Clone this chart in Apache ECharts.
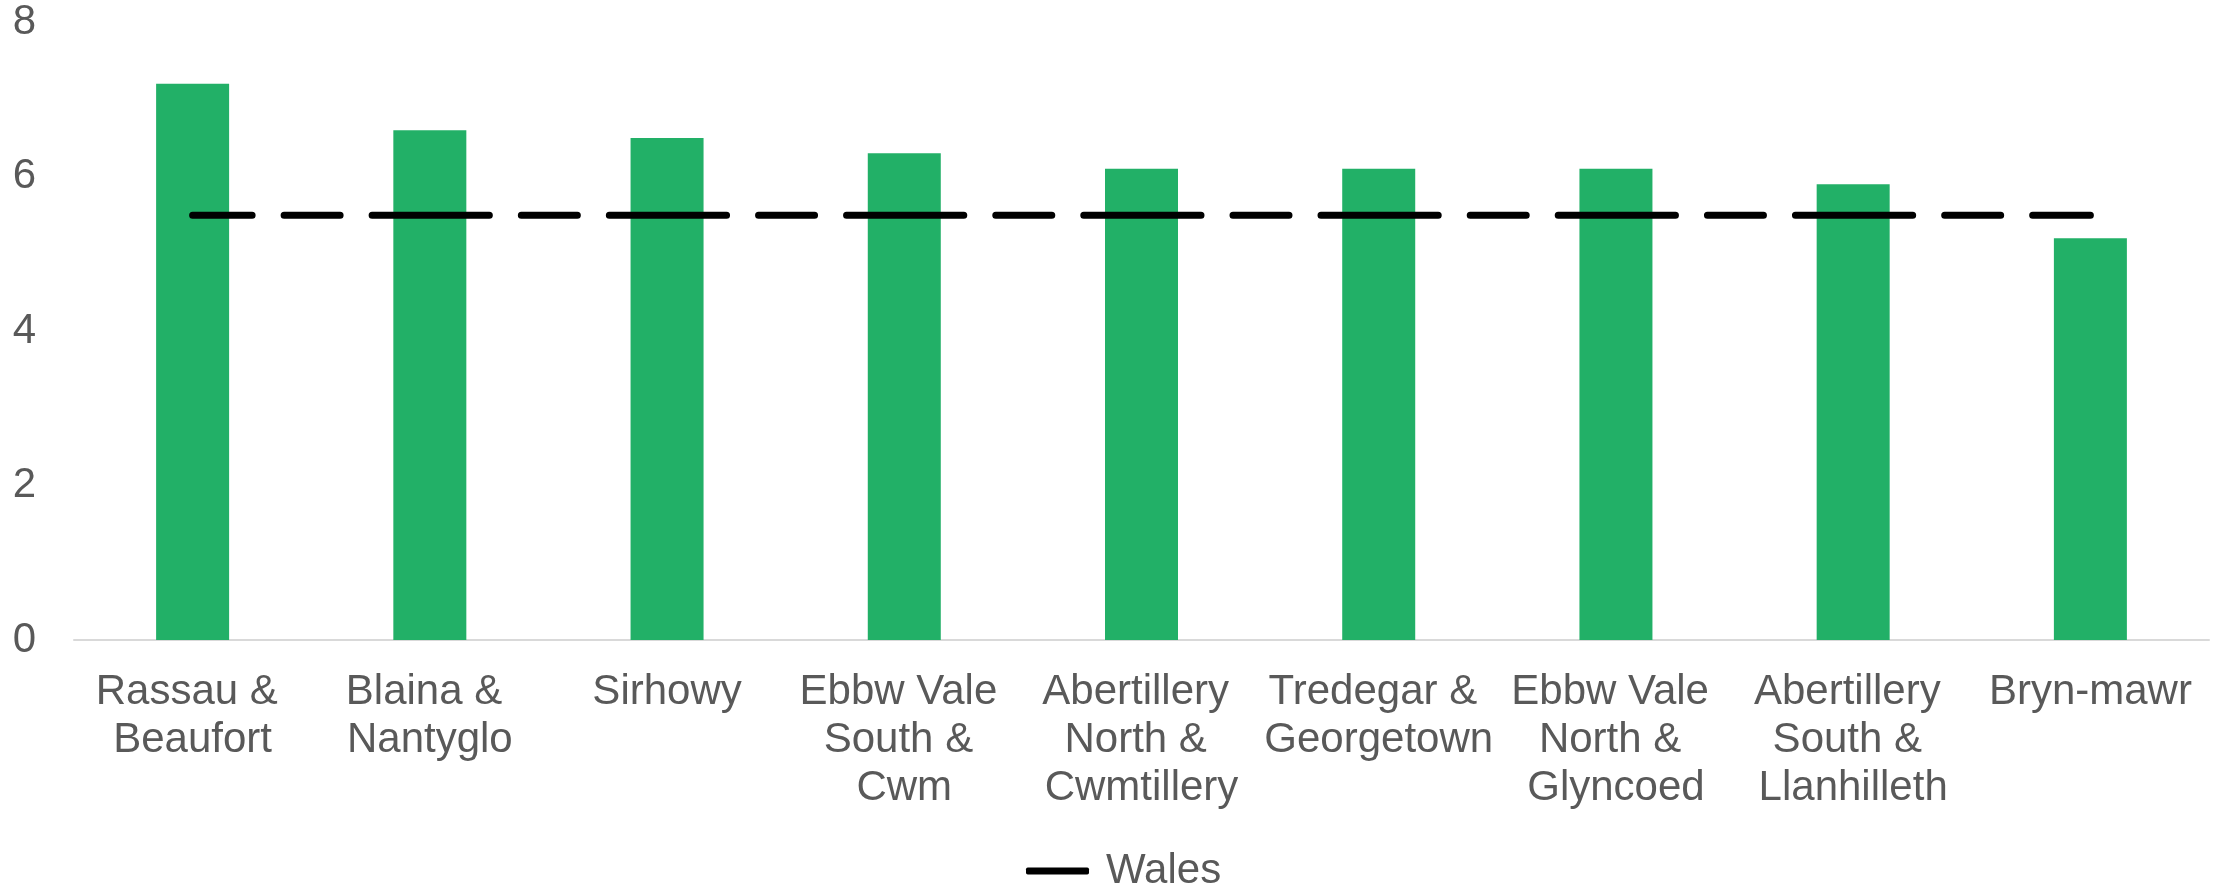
<!DOCTYPE html>
<html>
<head>
<meta charset="utf-8">
<script src="https://cdn.jsdelivr.net/npm/echarts@6/dist/echarts.min.js"></script>
<style>
  html, body { margin: 0; padding: 0; background: #fff; }
  #chart { width: 2218px; height: 889px; }
</style>
</head>
<body>
<div id="chart"></div>
<script>
const categories = [
  'Rassau & Beaufort',
  'Blaina & Nantyglo',
  'Sirhowy',
  'Ebbw Vale South & Cwm',
  'Abertillery North & Cwmtillery',
  'Tredegar & Georgetown',
  'Ebbw Vale North & Glyncoed',
  'Abertillery South & Llanhilleth',
  'Bryn-mawr'
];
const wardValues = [7.2, 6.6, 6.5, 6.3, 6.1, 6.1, 6.1, 5.9, 5.2];
const walesValues = [5.5, 5.5, 5.5, 5.5, 5.5, 5.5, 5.5, 5.5, 5.5];
const yTicks = [0, 2, 4, 6, 8];

const labelColor = '#595959';
const gridLeft = 74;
const gridRight = 9;

// dash pattern repeats once per category, like the Excel original
const catW = (2218 - gridLeft - gridRight) / categories.length;
const walesDash = [59.5, 32, 56, 32, catW - 179.5, 0];

const chart = echarts.init(document.getElementById('chart'));

chart.setOption({
  animation: false,
  textStyle: { fontFamily: '"Liberation Sans", Arial, sans-serif' },
  grid: { left: gridLeft, right: gridRight, top: 22, bottom: 249, containLabel: false },
  legend: {
    data: [{ name: 'Wales', icon: 'roundRect' }],
    left: 1021,
    top: 845,
    itemWidth: 63,
    itemHeight: 7,
    itemStyle: { color: '#000' },
    textStyle: { fontSize: 42, color: labelColor, padding: [0, 0, 0, 12] }
  },
  xAxis: {
    type: 'category',
    data: categories,
    axisLine: { lineStyle: { color: '#d9d9d9', width: 2 } },
    axisTick: { show: false },
    axisLabel: {
      interval: 0,
      fontSize: 42,
      lineHeight: 48,
      color: labelColor,
      margin: 28,
      width: 236,
      overflow: 'break'
    }
  },
  yAxis: {
    type: 'value',
    min: yTicks[0],
    max: yTicks[yTicks.length - 1],
    interval: 2,
    axisLine: { show: false },
    axisTick: { show: false },
    splitLine: { show: false },
    axisLabel: { fontSize: 42, color: labelColor, margin: 38 }
  },
  series: [
    {
      name: 'Ward',
      type: 'bar',
      data: wardValues,
      barWidth: 73,
      itemStyle: { color: '#22b067' }
    },
    {
      name: 'Wales',
      type: 'line',
      data: walesValues,
      symbol: 'none',
      lineStyle: { color: '#000', width: 7, type: walesDash, cap: 'round' }
    }
  ]
});
</script>
</body>
</html>
